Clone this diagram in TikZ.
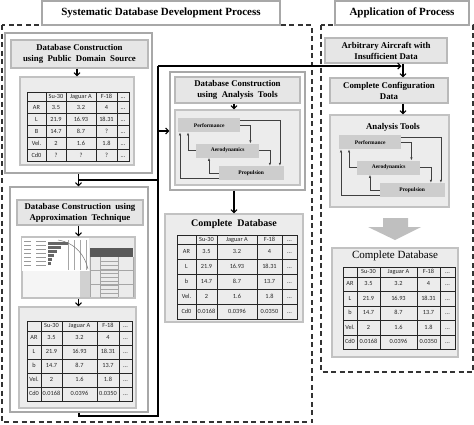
\documentclass[tikz,border=0pt]{standalone}
\usepackage{fontspec}
\setmainfont{Liberation Serif}
\newfontfamily\tabfont{Carlito}
\usetikzlibrary{arrows.meta,positioning,calc,matrix}

\definecolor{boxgray}{HTML}{E6E6E6}
\definecolor{panelgray}{HTML}{ECECEC}
\definecolor{edgegray}{HTML}{A8A8A8}
\definecolor{toolgray}{HTML}{CDCDCD}

\tikzset{
  group/.style={draw=black!80, line width=1.8pt, dash pattern=on 5pt off 3.5pt},
  heading/.style={draw=edgegray, line width=1.3pt, fill=white, inner sep=0pt,
                  font=\fontsize{11}{13}\selectfont\bfseries},
  stage/.style={draw=edgegray, line width=1.2pt, fill=white},
  caption/.style={draw=edgegray!80, line width=1.1pt, fill=boxgray, align=center,
                  inner sep=0pt, font=\fontsize{8.8}{11}\selectfont\bfseries},
  inset/.style={draw=edgegray!70, line width=1.1pt, fill=panelgray},
  tool/.style={fill=toolgray, anchor=north west, minimum height=14pt, inner sep=0pt,
               font=\fontsize{5.5}{6}\selectfont\bfseries},
  flow/.style={draw, line width=1.1pt, -{Straight Barb[length=3pt,width=6pt]}},
  feedback/.style={draw=black!75, line width=0.6pt, -{Latex[length=3pt,width=2.4pt]}},
  datatab/.style={matrix of nodes, nodes in empty cells, anchor=north west,
                  ampersand replacement=\&, column sep=-0.9pt, row sep=-0.9pt,
                  nodes={draw=black!85, line width=0.9pt, inner sep=0pt,
                         text height=4.5pt, text depth=1.3pt, text=black!85,
                         font=\tabfont\fontsize{6.3}{7}\selectfont}},
}

% the three analysis blocks with their feedback loops
\newcommand{\toolloop}[2]{%
  \node[tool, minimum width=62pt] (#1perf) at #2 {Performance};
  \node[tool, minimum width=63pt] (#1aero) at ($(#1perf.south west)+(18,11)$) {Aerodynamics};
  \node[tool, minimum width=65pt] (#1prop) at ($(#1aero.south west)+(22.5,8)$) {Propulsion};
  \draw[feedback] ($(#1perf.north east)+(0,2.5)$) -| ($(#1prop.north east)+(-4,0)$);
  \draw[feedback] (#1perf.east) -| ($(#1aero.north east)+(-9,0)$);
  \draw[feedback] (#1aero.east) -| ($(#1prop.north east)+(-14,0)$);
  \draw[feedback] ($(#1prop.south west)+(0,-1.5)$) -| ($(#1perf.south west)+(2,0)$);
  \draw[feedback] (#1aero.west) -| ($(#1perf.south west)+(10,0)$);
  \draw[feedback] (#1prop.west) -| ($(#1aero.south west)+(13,0)$);
}

\begin{document}
\begin{tikzpicture}[x=1pt,y=-1pt]
\useasboundingbox (0,0) rectangle (474,424);

% dashed groups and their titles
\draw[group] (2,25) rectangle (312,422);
\draw[group] (321,25) rectangle (473,372);
\node[heading, minimum width=238pt, minimum height=24pt] (ttlL) at (161,13)
  {Systematic Database Development Process};
\node[heading, minimum width=134pt, minimum height=24pt] (ttlR) at (402,13)
  {Application of Process};

% public domain source
\node[stage, minimum width=147pt, minimum height=140pt] (pnlA) at (78.5,103) {};
\node[caption, minimum width=137pt, minimum height=28pt] (hdA) at (79.5,54)
  {Database Construction\\using\ \ Public\ \ Domain\ \ Source};
\node[inset, minimum width=114pt, minimum height=88pt] (inA) at (77,121) {};
\matrix[datatab,
  column 1/.style={nodes={minimum width=19pt}}, column 2/.style={nodes={minimum width=20pt}},
  column 3/.style={nodes={minimum width=30pt}}, column 4/.style={nodes={minimum width=21pt}},
  column 5/.style={nodes={minimum width=12pt}},
  row 1/.style={nodes={minimum height=9.5pt}},
  nodes={minimum height=12pt}] (tabA) at (23,88) {
      \& Su-30 \& Jaguar A \& F-18  \& ... \\
  AR  \& 3.5   \& 3.2      \& 4     \& ... \\
  L   \& 21.9  \& 16.93    \& 18.31 \& ... \\
  B   \& 14.7  \& 8.7      \& ?     \& ... \\
  Vel.\& 2     \& 1.6      \& 1.8   \& ... \\
  Cd0 \& ?     \& ?        \& ?     \& ... \\
};

% approximation technique
\node[stage, minimum width=138pt, minimum height=225pt] (pnlB) at (79,299.5) {};
\node[caption, minimum width=126pt, minimum height=25pt] (hdB) at (80,212.5)
  {Database Construction\ \ using\\Approximation\ \ Technique};
\node[inset, fill=black!8, minimum width=113pt, minimum height=61pt] (imgB) at (78.5,267.5) {};
\fill[white] (22,238) rectangle (89,271);
\fill[black!4] (23,271) rectangle (80,297);
\foreach \y in {241,245,...,265}
  \draw[black!40, line width=0.9pt] (24,\y) -- (31,\y) (36,\y) -- (46,\y);
\foreach \x in {68,74,80,86}
  \draw[black!35, line width=0.4pt] (\x,240) -- (\x,270);
\foreach \y/\l in {242/20,246/13,250/9,254/6,258/4,262/3}
  \fill[black!60] (48,\y) rectangle +(\l,2.5);
\draw[black!55, line width=0.5pt] (58,240) .. controls (76,243) and (85,256) .. (88,269);
\fill[black!18] (80,271) rectangle (90,297);
\fill[black!65] (90,248) rectangle (133,257);
\foreach \y in {261,265,...,297}
  \draw[black!35, line width=0.4pt] (100,\y) -- (118,\y);
\foreach \y in {270,284}
  \draw[black!35, line width=0.4pt] (90,\y) -- (133,\y);
\foreach \x in {90,100,118,133}
  \draw[black!35, line width=0.4pt] (\x,257) -- (\x,297);
\node[inset, minimum width=117pt, minimum height=101pt] (inB) at (77.5,357.5) {};
\matrix[datatab,
  column 1/.style={nodes={minimum width=14pt}}, column 2/.style={nodes={minimum width=21pt}},
  column 3/.style={nodes={minimum width=35pt}}, column 4/.style={nodes={minimum width=22pt}},
  column 5/.style={nodes={minimum width=13pt}},
  row 1/.style={nodes={minimum height=10pt}},
  nodes={minimum height=14pt}] (tabB) at (23,317) {
      \& Su-30  \& Jaguar A \& F-18   \& ... \\
  AR  \& 3.5    \& 3.2      \& 4      \& ... \\
  L   \& 21.9   \& 16.93    \& 18.31  \& ... \\
  b   \& 14.7   \& 8.7      \& 13.7   \& ... \\
  Vel.\& 2      \& 1.6      \& 1.8    \& ... \\
  Cd0 \& 0.0168 \& 0.0396   \& 0.0350 \& ... \\
};

% analysis tools
\node[stage, minimum width=135pt, minimum height=118pt] (pnlC) at (237.5,131) {};
\node[caption, minimum width=125pt, minimum height=26pt] (hdC) at (237.5,90)
  {Database Construction\\using\ \ Analysis\ \ Tools};
\node[inset, minimum width=125pt, minimum height=75pt] (inC) at (237.5,147.5) {};
\toolloop{c}{(178,118)}

% complete database
\node[inset, minimum width=138pt, minimum height=108pt] (pnlD) at (234,268) {};
\node[font=\fontsize{10}{12}\selectfont\bfseries, inner sep=0pt] (ttlD) at (234,224) {Complete\ \ Database};
\matrix[datatab,
  column 1/.style={nodes={minimum width=19pt}}, column 2/.style={nodes={minimum width=21pt}},
  column 3/.style={nodes={minimum width=40pt}}, column 4/.style={nodes={minimum width=25pt}},
  column 5/.style={nodes={minimum width=15pt}},
  row 1/.style={nodes={minimum height=9.5pt}},
  nodes={minimum height=15pt}] (tabD) at (173,231) {
      \& Su-30  \& Jaguar A \& F-18   \& ... \\
  AR  \& 3.5    \& 3.2      \& 4      \& ... \\
  L   \& 21.9   \& 16.93    \& 18.31  \& ... \\
  b   \& 14.7   \& 8.7      \& 13.7   \& ... \\
  Vel.\& 2      \& 1.6      \& 1.8    \& ... \\
  Cd0 \& 0.0168 \& 0.0396   \& 0.0350 \& ... \\
};

% application side
\node[caption, minimum width=122pt, minimum height=25pt] (hdE) at (386,50.5)
  {Arbitrary\ Aircraft\ with\\Insufficient\ Data};
\node[caption, minimum width=118pt, minimum height=25pt] (hdF) at (389,90.5)
  {Complete\ Configuration\\Data};
\node[inset, minimum width=119pt, minimum height=92pt] (pnlG) at (389.5,161) {};
\node[font=\fontsize{8.8}{11}\selectfont\bfseries, inner sep=0pt] (ttlG) at (393,127) {Analysis Tools};
\toolloop{g}{(339,135)}
\fill[black!25] (383,218) -- (408,218) -- (408,227) -- (421,227) -- (395,240)
  -- (368,227) -- (383,227) -- cycle;
\node[inset, minimum width=126pt, minimum height=109pt] (pnlH) at (395,302.5) {};
\node[font=\fontsize{11}{13}\selectfont, inner sep=0pt] (ttlH) at (395,256) {Complete Database};
\matrix[datatab,
  column 1/.style={nodes={minimum width=14pt}}, column 2/.style={nodes={minimum width=23pt}},
  column 3/.style={nodes={minimum width=37pt}}, column 4/.style={nodes={minimum width=23pt}},
  column 5/.style={nodes={minimum width=15pt}},
  row 1/.style={nodes={minimum height=10pt}},
  nodes={minimum height=14.5pt}] (tabH) at (339,263) {
      \& Su-30  \& Jaguar A \& F-18   \& ... \\
  AR  \& 3.5    \& 3.2      \& 4      \& ... \\
  L   \& 21.9   \& 16.93    \& 18.31  \& ... \\
  b   \& 14.7   \& 8.7      \& 13.7   \& ... \\
  Vel.\& 2      \& 1.6      \& 1.8    \& ... \\
  Cd0 \& 0.0168 \& 0.0396   \& 0.0350 \& ... \\
};

% flow between the stages
\coordinate (busT) at (158,66);
\coordinate (busB) at (158,416);
\coordinate (jA) at (78.5,180);
\coordinate (jE) at (403,66);
\draw[flow] (inA.north |- hdA.south) -- (inA.north);
\draw[flow] (imgB.north |- hdB.south) -- (imgB.north);
\draw[flow] (imgB.south) -- (imgB.south |- inB.north);
\draw[flow] (pnlD.north |- hdC.south) -- (pnlD.north |- inC.north);
\draw[flow] (pnlA.south) -- (pnlA.south |- pnlB.north);
\draw[line width=1.1pt] (jA) -- (jA -| busT);
\draw[line width=1.1pt] (busT) -- (busB) -| (pnlB.south);
\draw[flow] (busT |- pnlC.west) -- (pnlC.west);
\draw[flow, shorten >=1.5pt] (busT) -- (jE);
\draw[flow] (pnlD.north |- pnlC.south) -- (pnlD.north);
\draw[flow] (jE |- hdE.south) -- (jE |- hdF.north);
\draw[flow] (jE |- hdF.south) -- (jE |- pnlG.north);
\end{tikzpicture}
\end{document}
